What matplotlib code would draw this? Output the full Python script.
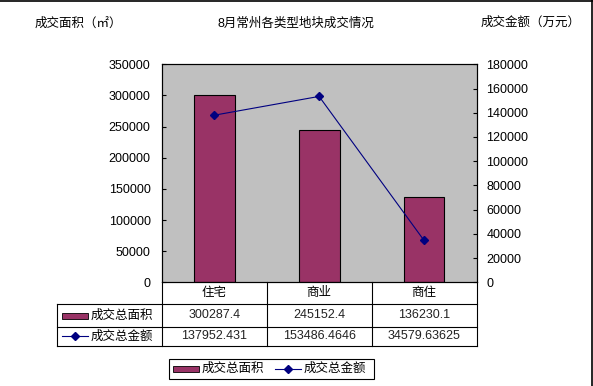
import matplotlib
matplotlib.use("Agg")
import matplotlib.pyplot as plt
from matplotlib.patches import Rectangle
from matplotlib.lines import Line2D

plt.rcParams['font.family'] = ['Liberation Sans', 'Noto Sans CJK SC', 'DejaVu Sans']

# ---- data ----
categories = ["住宅", "商业", "商住"]
area_values = [300287.4, 245152.4, 136230.1]          # 成交总面积 (㎡)
amount_values = [137952.431, 153486.4646, 34579.63625]  # 成交总金额 (万元)
area_label = "成交总面积"
amount_label = "成交总金额"
title = "8月常州各类型地块成交情况"
left_label = "成交面积（㎡）"
right_label = "成交金额（万元）"
left_ticks = [0, 50000, 100000, 150000, 200000, 250000, 300000, 350000]
right_ticks = [0, 20000, 40000, 60000, 80000, 100000, 120000, 140000, 160000, 180000]

W, H = 593, 386
BAR_COLOR = "#993366"
LINE_COLOR = "#000080"
BG = "#C0C0C0"
FS = 9

fig = plt.figure(figsize=(W / 100, H / 100), dpi=100)
fig.patch.set_facecolor("white")

# plot area in pixels
L, R, T, B = 161.7, 476.5, 64.3, 282.3
ax = fig.add_axes([L / W, 1 - B / H, (R - L) / W, (B - T) / H])
ax.set_facecolor(BG)
x = list(range(len(categories)))
ax.bar(x, area_values, width=0.39, color=BAR_COLOR, edgecolor="black", linewidth=0.8, zorder=2)
ax.set_xlim(-0.5, len(categories) - 0.5)
ax.set_ylim(0, 350000)
ax.set_yticks(left_ticks)
ax.set_yticklabels([str(v) for v in left_ticks])
ax.set_xticks([])
ax.tick_params(axis='y', direction='in', length=3, width=0.8, pad=8, labelsize=FS, colors='black')
for s in ax.spines.values():
    s.set_color("black")
    s.set_linewidth(0.8)

ax2 = ax.twinx()
ax2.patch.set_visible(False)
ax2.plot(x, amount_values, color=LINE_COLOR, linewidth=0.8, marker='D', markersize=4.5,
         markerfacecolor=LINE_COLOR, markeredgecolor=LINE_COLOR, zorder=3)
ax2.set_ylim(0, 180000)
ax2.set_yticks(right_ticks)
ax2.set_yticklabels([str(v) for v in right_ticks])
ax2.tick_params(axis='y', direction='in', length=3, width=0.8, pad=7, labelsize=FS, colors='black')
for s in ax2.spines.values():
    s.set_color("black")
    s.set_linewidth(0.8)

# overlay in pixel coordinates for table, labels, legend
ov = fig.add_axes([0, 0, 1, 1])
ov.set_xlim(0, W)
ov.set_ylim(H, 0)
ov.axis('off')
ov.patch.set_visible(False)

lw = 0.8
# titles
ov.text(78, 23.5, left_label, ha='center', va='center', fontsize=FS)
ov.text(296, 23.5, title, ha='center', va='center', fontsize=FS)
ov.text(531, 22.5, right_label, ha='center', va='center', fontsize=FS)

# table
TL = 57.3
rows_y = [B, 304.3, 326.7, 346.0]
colw = (R - L) / len(categories)
col_x = [L + i * colw for i in range(len(categories) + 1)]
for yy in rows_y[1:]:
    ov.plot([TL, R], [yy, yy], color='black', lw=lw)
for xx in col_x:
    ov.plot([xx, xx], [B, rows_y[-1]], color='black', lw=lw)
ov.plot([TL, TL], [rows_y[1], rows_y[-1]], color='black', lw=lw)

for i, cat in enumerate(categories):
    cx = (col_x[i] + col_x[i + 1]) / 2
    ov.text(cx, (rows_y[0] + rows_y[1]) / 2, cat, ha='center', va='center', fontsize=FS)
    ov.text(cx, (rows_y[1] + rows_y[2]) / 2, str(area_values[i]), ha='center', va='center',
            fontsize=FS, color='#222222')
    ov.text(cx, (rows_y[2] + rows_y[3]) / 2, str(amount_values[i]), ha='center', va='center',
            fontsize=FS, color='#222222')

# row headers with legend keys
y1 = (rows_y[1] + rows_y[2]) / 2
y2 = (rows_y[2] + rows_y[3]) / 2
ov.add_patch(Rectangle((61.7, y1 - 3), 26, 6, facecolor=BAR_COLOR, edgecolor='black', lw=0.6))
ov.text(91, y1, area_label, ha='left', va='center', fontsize=FS)
ov.add_line(Line2D([61.7, 88], [y2, y2], color=LINE_COLOR, lw=0.8))
ov.plot([75], [y2], marker='D', markersize=4, color=LINE_COLOR)
ov.text(91, y2, amount_label, ha='left', va='center', fontsize=FS)

# bottom legend
ov.add_patch(Rectangle((168.7, 359.3), 374 - 168.7, 378.5 - 359.3, facecolor='white',
                       edgecolor='black', lw=0.8))
ly = 369
ov.add_patch(Rectangle((172.8, ly - 3), 26.5, 6, facecolor=BAR_COLOR, edgecolor='black', lw=0.6))
ov.text(202, ly, area_label, ha='left', va='center', fontsize=FS)
ov.add_line(Line2D([275, 300.7], [ly, ly], color=LINE_COLOR, lw=0.8))
ov.plot([288], [ly], marker='D', markersize=4, color=LINE_COLOR)
ov.text(303.7, ly, amount_label, ha='left', va='center', fontsize=FS)

# partial chart border (top and right)
ov.plot([0, W], [0.5, 0.5], color='black', lw=1.2)
ov.plot([W - 0.7, W - 0.7], [0, H], color='black', lw=1.2)

fig.savefig("out.png", dpi=100, facecolor="white")
